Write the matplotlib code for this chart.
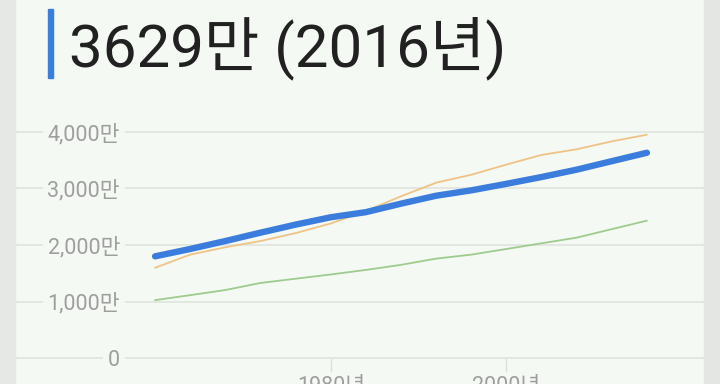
import matplotlib.pyplot as plt
from matplotlib.patches import Rectangle

# values in 만 (10,000)
years = [1960, 1964, 1968, 1972, 1976, 1980, 1984, 1988, 1992, 1996, 2000, 2004, 2008, 2012, 2016]
blue_vals = [1800, 1930, 2070, 2218, 2360, 2490, 2580, 2730, 2870, 2965, 3080, 3200, 3330, 3480, 3629]
orange_vals = [1598, 1830, 1960, 2070, 2210, 2380, 2600, 2860, 3100, 3240, 3420, 3590, 3690, 3830, 3947]
green_vals = [1027, 1115, 1205, 1330, 1405, 1480, 1560, 1650, 1760, 1830, 1930, 2030, 2130, 2280, 2430]

y_ticks = [0, 1000, 2000, 3000, 4000]
y_labels = ['0', '1,000만', '2,000만', '3,000만', '4,000만']
x_ticks = [1980, 2000]
x_labels = ['1980년', '2000년']
title = '3629만 (2016년)'

bg = '#f5f9f4'
fonts = ['Roboto', 'Noto Sans CJK KR', 'DejaVu Sans']
plt.rcParams['font.family'] = fonts

W, H = 720, 384
fig = plt.figure(figsize=(7.2, 3.84), dpi=100, facecolor=bg)

# side strips of the card
fig.patches.append(Rectangle((0, 0), 15 / W, 1, transform=fig.transFigure, color='#e5e8e5', zorder=0))
fig.patches.append(Rectangle((704 / W, 0), 16 / W, 1, transform=fig.transFigure, color='#e3e6e3', zorder=0))

# title with blue bar
fig.patches.append(Rectangle((48 / W, 1 - 78 / H), 5 / W, 69 / H, transform=fig.transFigure,
                             color='#3b7ddd', zorder=1))
fig.text(69 / W, 1 - 66.7 / H, title, fontsize=43.3, color='#212121', va='baseline', ha='left')

# plot area: x 15..704 px, y 100..358.3 px
ax = fig.add_axes([15 / W, 1 - 358.3 / H, (704 - 15) / W, (358.3 - 100) / H])
ax.set_facecolor(bg)
ax.set_xlim(1944.05, 2022.5)
ax.set_ylim(0, 4560)

ax.plot(years, orange_vals, color='#efc385', lw=1.3, solid_capstyle='round', zorder=3)
ax.plot(years, green_vals, color='#9ecb8e', lw=1.3, solid_capstyle='round', zorder=3)
ax.plot(years, blue_vals, color='#3b7ddd', lw=4.6, solid_capstyle='round', zorder=4)

for s in ax.spines.values():
    s.set_visible(False)

ax.set_axisbelow(True)
ax.set_yticks(y_ticks)
ax.set_yticklabels(y_labels)
ax.yaxis.grid(True, color='#e1e6e0', lw=1.3)
for gl in ax.yaxis.get_gridlines():
    gl.set_clip_on(False)
ax.tick_params(axis='y', length=0, pad=-75.6, labelsize=15.5, labelcolor='#9e9e9e')
for lab in ax.get_yticklabels():
    lab.set_bbox(dict(facecolor=bg, edgecolor='none', pad=3.5))

ax.set_xticks(x_ticks)
ax.set_xticklabels(x_labels)
ax.tick_params(axis='x', length=10, width=1, color='#dcdfdb', pad=3, labelsize=15.5, labelcolor='#9e9e9e')

fig.savefig('out.png', dpi=100, facecolor=bg)
